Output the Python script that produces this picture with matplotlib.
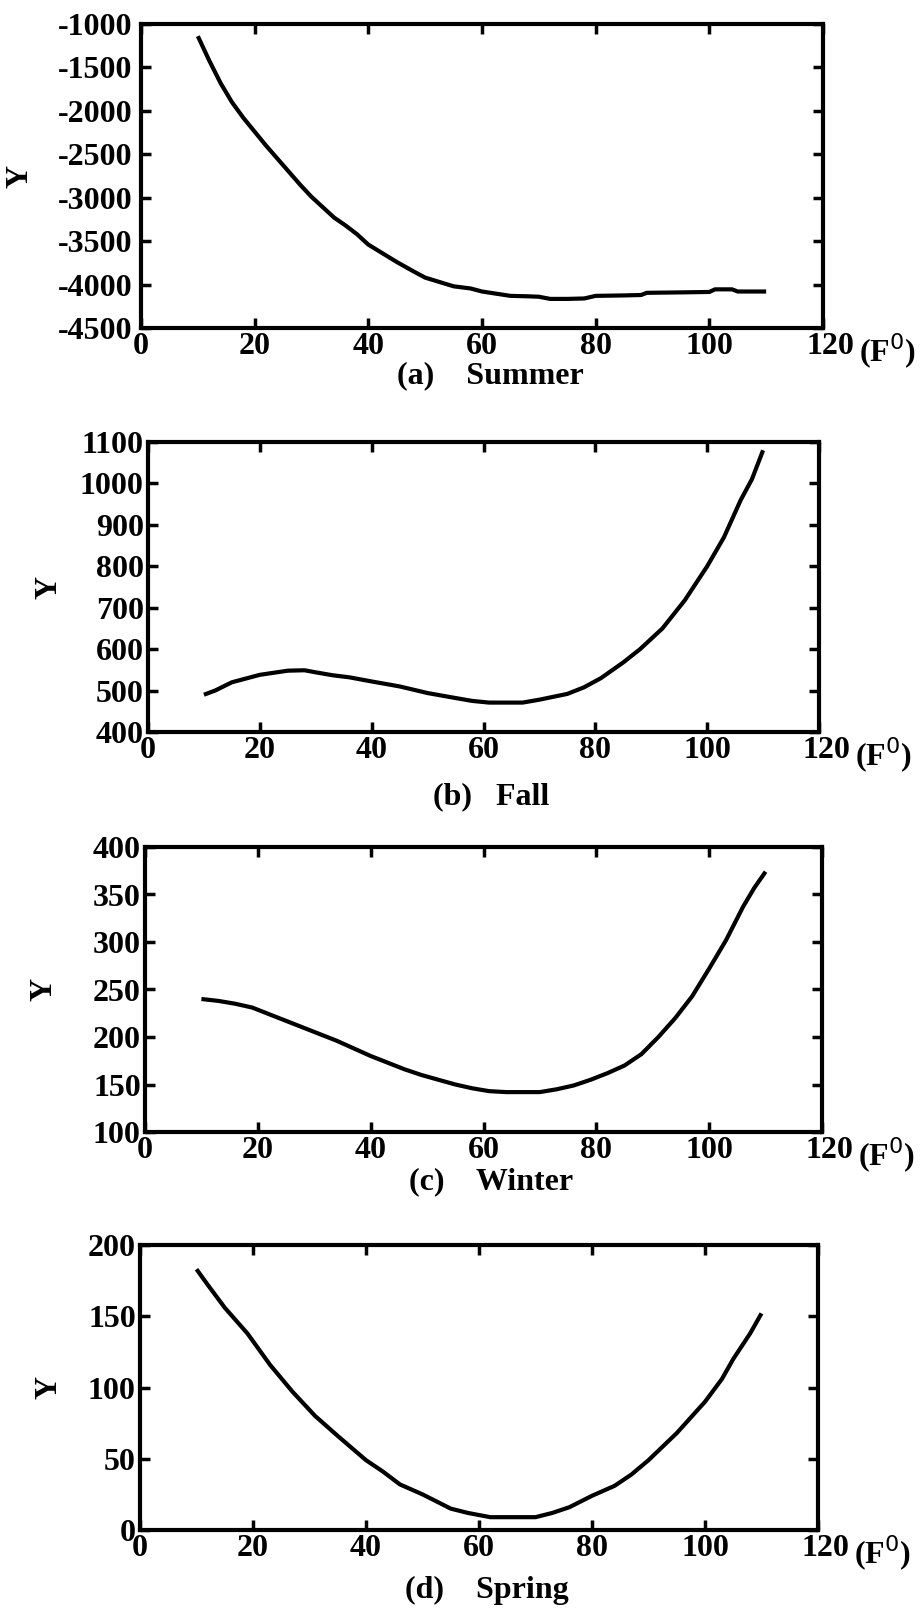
import matplotlib
matplotlib.use("Agg")
import matplotlib.pyplot as plt
from matplotlib.transforms import ScaledTranslation

# ---------------- data ----------------
summer_x = [10, 12, 14, 16, 18, 20, 22, 24, 26, 28, 30, 32, 34, 36, 38, 40, 42, 45, 48, 50, 53, 55, 58, 60, 63, 65, 68, 70, 72, 75, 78, 80, 85, 88, 89, 95, 100, 101, 104, 105, 110]
summer_y = [-1140, -1420, -1680, -1900, -2080, -2240, -2400, -2550, -2700, -2850, -2990, -3110, -3230, -3320, -3420, -3540, -3620, -3740, -3850, -3920, -3980, -4020, -4045, -4080, -4110, -4130, -4135, -4140, -4165, -4165, -4160, -4130, -4125, -4120, -4095, -4090, -4085, -4055, -4055, -4080, -4080]

fall_x = [10, 12, 15, 20, 25, 28, 30, 33, 36, 40, 45, 50, 55, 58, 61, 64, 67, 70, 75, 78, 81, 85, 88, 92, 96, 100, 103, 106, 108, 110]
fall_y = [490, 500, 520, 538, 548, 549, 544, 537, 532, 522, 510, 494, 482, 475, 471, 471, 471, 478, 492, 508, 530, 568, 600, 650, 718, 800, 870, 960, 1010, 1080]

winter_x = [10, 13, 16, 19, 22, 25, 28, 31, 34, 37, 40, 43, 46, 49, 52, 55, 58, 61, 64, 67, 70, 73, 76, 79, 82, 85, 88, 91, 94, 97, 100, 103, 106, 108, 110]
winter_y = [240, 238, 235, 231, 224, 217, 210, 203, 196, 188, 180, 173, 166, 160, 155, 150, 146, 143, 142, 142, 142, 145, 149, 155, 162, 170, 182, 200, 220, 243, 272, 302, 337, 357, 374]

spring_x = [10, 12, 15, 19, 23, 27, 31, 35, 40, 43, 46, 50, 55, 58, 62, 66, 70, 73, 76, 80, 84, 87, 90, 95, 100, 103, 105, 108, 110]
spring_y = [183, 172, 156, 138, 116, 97, 80, 66, 49, 41, 32, 25, 15, 12, 9, 9, 9, 12, 16, 24, 31, 39, 49, 68, 90, 106, 120, 138, 152]

x_ticks = [0, 20, 40, 60, 80, 100, 120]
x_ticklabels = ["0", "20", "40", "60", "80", "100", "120"]

summer_ticks = [-4500, -4000, -3500, -3000, -2500, -2000, -1500, -1000]
fall_ticks = [400, 500, 600, 700, 800, 900, 1000, 1100]
winter_ticks = [100, 150, 200, 250, 300, 350, 400]
spring_ticks = [0, 50, 100, 150, 200]

captions = ["(a)    Summer", "(b)   Fall", "(c)    Winter", "(d)    Spring"]
x_unit = "(F$^{0}$)"
y_label = "Y"

# ---------------- layout ----------------
W, H = 922, 1610
fig = plt.figure(figsize=(W / 100, H / 100), dpi=100)
FONT = "Liberation Serif"
FS = 23

# (left, right, top, bottom) in pixels, caption y, ylabel x, ytick pad
boxes = [
    (141, 823, 24, 328, 376, 20, 6),
    (148, 819, 442, 732, 797, 49, 3),
    (145, 822, 847, 1132, 1182, 44, 3),
    (140, 818, 1245, 1530, 1590, 49, 3),
]
series = [
    (summer_x, summer_y, summer_ticks),
    (fall_x, fall_y, fall_ticks),
    (winter_x, winter_y, winter_ticks),
    (spring_x, spring_y, spring_ticks),
]

for (L, R, T, B, cy, yx, ypad), (xs, ys, yt), cap in zip(boxes, series, captions):
    ax = fig.add_axes([L / W, 1 - B / H, (R - L) / W, (B - T) / H])
    ax.plot(xs, ys, color="black", lw=3.0, solid_capstyle="butt", solid_joinstyle="round")
    ax.set_xlim(0, 120)
    ax.set_ylim(yt[0], yt[-1])
    ax.set_xticks(x_ticks)
    ax.set_xticklabels(x_ticklabels)
    ax.set_yticks(yt)
    ax.set_yticklabels([str(v) for v in yt])
    ax.tick_params(direction="in", length=7, width=2.5, top=True, right=True,
                   labelsize=FS, pad=3, colors="black")
    ax.tick_params(axis="y", pad=ypad)
    for lab in ax.get_xticklabels() + ax.get_yticklabels():
        lab.set_fontfamily(FONT)
        lab.set_fontweight("bold")
    lab120 = ax.get_xticklabels()[-1]
    lab120.set_transform(lab120.get_transform() + ScaledTranslation(0.07, 0, fig.dpi_scale_trans))
    for sp in ax.spines.values():
        sp.set_linewidth(3.0)
    ax.text(1.0, 0, x_unit, transform=ax.transAxes + ScaledTranslation(0.36, -0.04, fig.dpi_scale_trans),
            ha="left", va="top", fontsize=FS, fontfamily=FONT, fontweight="bold")
    fig.text(yx / W, 1 - ((T + B) / 2) / H, y_label, rotation=90, ha="center", va="center",
             fontsize=FS, fontfamily=FONT, fontweight="bold")
    fig.text(((L + R) / 2 + 8) / W, 1 - cy / H, cap, ha="center", va="center",
             fontsize=FS, fontfamily=FONT, fontweight="bold")

fig.savefig("out.png", dpi=100, facecolor="white")
